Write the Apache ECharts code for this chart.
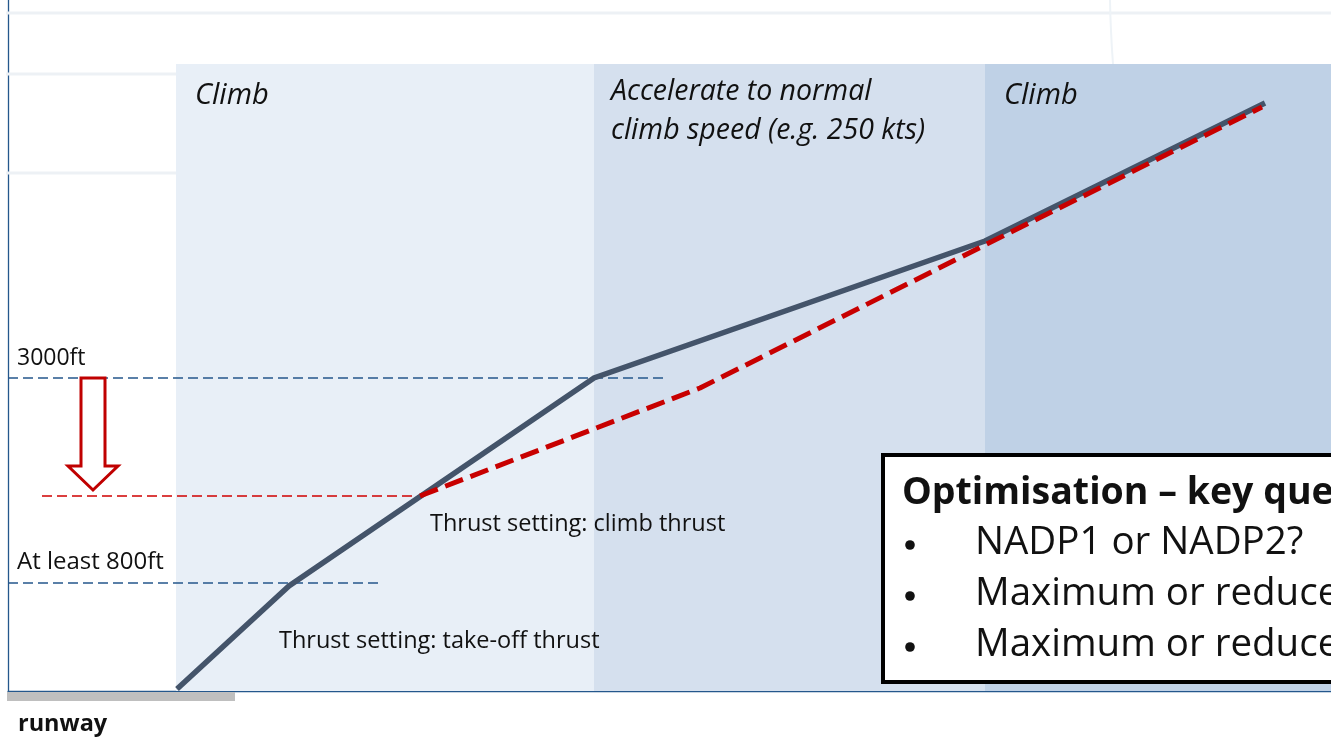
<!DOCTYPE html>
<html>
<head>
<meta charset="utf-8">
<script src="https://cdn.jsdelivr.net/npm/echarts@6/dist/echarts.min.js"></script>
<style>
html,body{margin:0;padding:0;background:#fff;}
#chart{width:1331px;height:738px;}
</style>
</head>
<body>
<div id="chart"></div>
<script>
// ---- data (diagram units: x = horizontal distance, y = height) ----
var bandRanges = [[168, 586], [586, 977], [977, 1330]];
var bandColors = ['#E8EFF7', '#D5E0EE', '#BFD1E6'];
var bandTop = 627;
var phaseLabels = ['Climb', 'Accelerate to normal\nclimb speed (e.g. 250 kts)', 'Climb'];
var profileStandard = [[169, 2], [281, 105], [586, 313], [977, 450], [1257, 588]];
var profileOptimised = [[412, 195], [692, 303], [977, 446], [1254, 584]];
var line3000 = [[0, 313], [655, 313]];
var line800 = [[0, 108], [370, 108]];
var lineReduced = [[34, 195], [412, 195]];
var arrowData = [[85, 313, 201]];
var bgLines = [678, 617, 518];
var bgVertical = [[1102, 691], [1103, 660], [1105, 627]];
var runway = [[0, 227]];
var boxTitle = 'Optimisation \u2013 key questions';
var boxItems = ['NADP1 or NADP2?', 'Maximum or reduced take-off thrust?', 'Maximum or reduced climb thrust?'];

var chart = echarts.init(document.getElementById('chart'));
var FONT = '"Open Sans", sans-serif';

var series = [];
// faint background lines
bgLines.forEach(function (v) {
  series.push({
    type: 'line', z: 0, silent: true, symbol: 'none', clip: false,
    data: [[-8, v], [1330, v]],
    lineStyle: { color: '#EDF1F5', width: 3 }
  });
});
series.push({
  type: 'line', z: 0, silent: true, symbol: 'none', clip: false,
  data: bgVertical, smooth: true,
  lineStyle: { color: '#EEF3F7', width: 2 }
});
// phase bands
series.push({
  type: 'custom', z: 1, silent: true,
  data: bandRanges.map(function (r, i) { return [r[0], r[1], bandTop, i]; }),
  renderItem: function (params, api) {
    var p0 = api.coord([api.value(0), api.value(2)]);
    var p1 = api.coord([api.value(1), 0]);
    return {
      type: 'rect',
      shape: { x: p0[0], y: p0[1], width: p1[0] - p0[0], height: p1[1] - p0[1] },
      style: { fill: bandColors[api.value(3)] }
    };
  }
});
// runway bar
series.push({
  type: 'custom', z: 3, silent: true,
  data: runway,
  renderItem: function (params, api) {
    var p0 = api.coord([api.value(0), 0]);
    var p1 = api.coord([api.value(1), 0]);
    return {
      type: 'rect',
      shape: { x: p0[0] - 1, y: p0[1] + 1, width: p1[0] - p0[0] + 1, height: 9 },
      style: { fill: '#BFBFBF' }
    };
  }
});
// reference dashed lines
[line3000, line800].forEach(function (d) {
  series.push({
    type: 'line', z: 3, silent: true, symbol: 'none', data: d,
    lineStyle: { color: '#24578C', width: 1.5, type: [10, 5] }
  });
});
series.push({
  type: 'line', z: 3, silent: true, symbol: 'none', data: lineReduced,
  lineStyle: { color: '#D00000', width: 1.5, type: [10, 5] }
});
// arrow
series.push({
  type: 'custom', z: 4, silent: true, data: arrowData,
  renderItem: function (params, api) {
    var top = api.coord([api.value(0), api.value(1)]);
    var tip = api.coord([api.value(0), api.value(2)]);
    var cx = top[0], sw = 12, hw = 25, hh = 24;
    var hb = tip[1] - hh;
    return {
      type: 'polygon',
      shape: { points: [[cx - sw, top[1]], [cx + sw, top[1]], [cx + sw, hb], [cx + hw, hb], [cx, tip[1]], [cx - hw, hb], [cx - sw, hb]] },
      style: { fill: '#ffffff', stroke: '#C00000', lineWidth: 3 }
    };
  }
});
// profiles
series.push({
  type: 'line', z: 5, silent: true, symbol: 'none', data: profileStandard,
  lineStyle: { color: '#44546A', width: 5.5, cap: 'butt', join: 'miter' }
});
series.push({
  type: 'line', z: 6, silent: true, symbol: 'none', data: profileOptimised,
  lineStyle: { color: '#C80000', width: 5, type: [19, 8] }
});

function txt(t, x, y, size, opts) {
  opts = opts || {};
  return {
    type: 'text', x: x, y: y, z: 100,
    style: {
      text: t, fill: '#111', textVerticalAlign: 'middle',
      font: (opts.italic ? 'italic ' : '') + (opts.bold ? 'bold ' : '') + size + 'px ' + FONT,
      lineHeight: opts.lh || size * 1.2
    }
  };
}

var graphics = [
  txt(phaseLabels[0], 195, 96, 29, { italic: true }),
  txt(phaseLabels[1], 611, 111, 28.5, { italic: true, lh: 39 }),
  txt(phaseLabels[2], 1004, 96, 29, { italic: true }),
  txt('3000ft', 17, 358, 23),
  txt('At least 800ft', 17, 562, 24),
  txt('Thrust setting: climb thrust', 430, 524, 23.5),
  txt('Thrust setting: take-off thrust', 279, 641, 23.5),
  txt('runway', 18, 724, 23.5, { bold: true }),
  {
    type: 'rect', z: 90,
    shape: { x: 883, y: 455, width: 600, height: 227 },
    style: { fill: '#fff', stroke: '#000', lineWidth: 4 }
  },
  txt(boxTitle, 902, 493, 37.5, { bold: true })
];
boxItems.forEach(function (t, i) {
  graphics.push({
    type: 'circle', z: 100,
    shape: { cx: 910, cy: 545 + i * 51, r: 4.8 },
    style: { fill: '#111' }
  });
  graphics.push(txt(t, 975, 543 + i * 51, 38.5));
});

chart.setOption({
  animation: false,
  grid: { left: 8, right: 0, top: 0, bottom: 47, containLabel: false },
  xAxis: {
    type: 'value', min: 0, max: 1323,
    axisLine: { show: true, lineStyle: { color: '#24578C', width: 1.3 } },
    axisTick: { show: false }, axisLabel: { show: false }, splitLine: { show: false }
  },
  yAxis: {
    type: 'value', min: 0, max: 691,
    axisLine: { show: true, lineStyle: { color: '#24578C', width: 1.3 } },
    axisTick: { show: false }, axisLabel: { show: false }, splitLine: { show: false }
  },
  series: series,
  graphic: graphics
});
</script>
</body>
</html>
